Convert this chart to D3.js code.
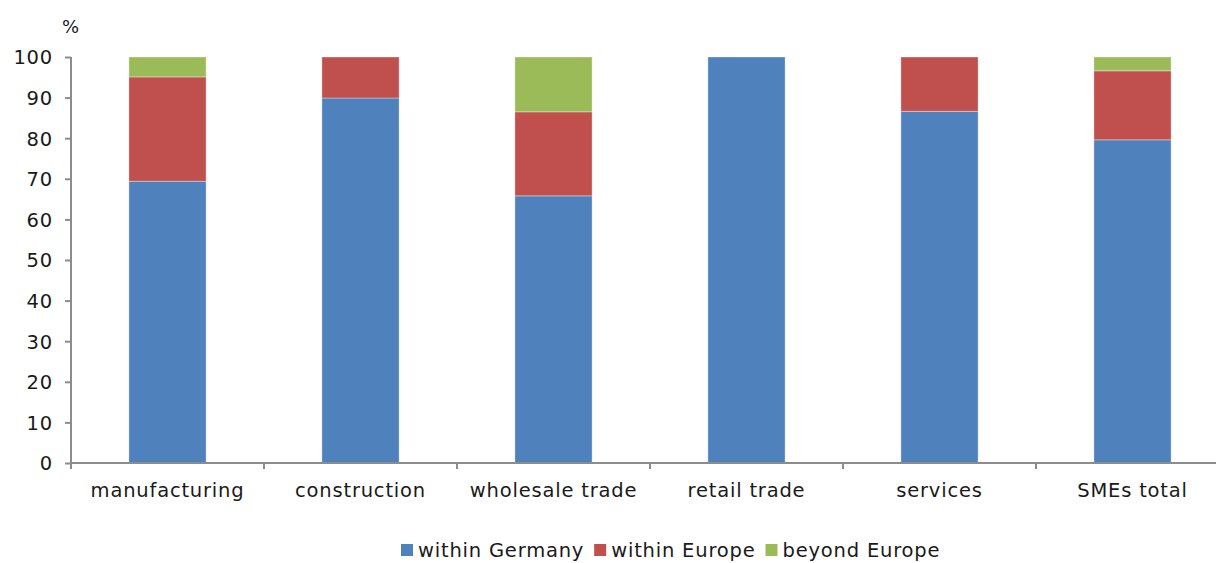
<!DOCTYPE html>
<html>
<head>
<meta charset="utf-8">
<script src="https://cdn.jsdelivr.net/npm/d3@7"></script>
<style>
  html, body { margin: 0; padding: 0; background: #fff; }
  svg { display: block; }
  text { font-family: "DejaVu Sans", Verdana, sans-serif; fill: #1a1a1a; letter-spacing: 0.8px; }
</style>
</head>
<body>
<svg id="chart" width="1216" height="563"></svg>
<script>
// Sectors along the x axis
const categories = ["manufacturing", "construction", "wholesale trade", "retail trade", "services", "SMEs total"];
// Share of sales by region, in %
const withinGermany = [69.4, 89.9, 65.8, 100, 86.6, 79.6];
const withinEurope  = [25.7, 10.1, 20.7, 0, 13.4, 17.0];
const beyondEurope  = [4.9, 0, 13.5, 0, 0, 3.4];
const seriesNames = ["within Germany", "within Europe", "beyond Europe"];
const seriesColors = ["#4F81BD", "#C0504D", "#9BBB59"];
const yTicks = [0, 10, 20, 30, 40, 50, 60, 70, 80, 90, 100];

const svg = d3.select("#chart");
const margin = { left: 71, top: 57, bottom: 463 };
const bandW = 193;
const plotRight = margin.left + bandW * categories.length;
const fontSize = 19.5;

const x = d3.scaleBand().domain(categories).range([margin.left, plotRight]).paddingInner(0.6).paddingOuter(0.3);
const y = d3.scaleLinear().domain([0, 100]).range([margin.bottom, margin.top]);

const rows = categories.map((c, i) => ({
  cat: c,
  "within Germany": withinGermany[i],
  "within Europe": withinEurope[i],
  "beyond Europe": beyondEurope[i]
}));
const stacked = d3.stack().keys(seriesNames)(rows);

// stacked bars
svg.append("g").selectAll("g")
  .data(stacked)
  .join("g")
  .attr("fill", (d, i) => seriesColors[i])
  .selectAll("rect")
  .data(d => d.filter(p => p[1] - p[0] > 0))
  .join("rect")
  .attr("x", d => x(d.data.cat))
  .attr("width", x.bandwidth())
  .attr("y", d => y(d[1]))
  .attr("height", d => y(d[0]) - y(d[1]))
  .attr("stroke", "rgba(255,255,255,0.35)")
  .attr("stroke-width", 1);

const axisColor = "#8c8c8c";

// y axis
const yAxis = svg.append("g")
  .attr("transform", `translate(${margin.left},0)`)
  .call(d3.axisLeft(y).tickValues(yTicks).tickSize(6).tickPadding(12));
yAxis.select(".domain").attr("stroke", axisColor).attr("stroke-width", 2).attr("d", `M0,${margin.top}V${margin.bottom}`);
yAxis.selectAll(".tick line").attr("stroke", axisColor).attr("stroke-width", 2);
yAxis.selectAll(".tick text").attr("font-size", fontSize).attr("font-family", "DejaVu Sans, sans-serif").attr("fill", "#1a1a1a").attr("dy", "0.35em");

// x axis: line with ticks at band boundaries
const xg = svg.append("g");
xg.append("line")
  .attr("x1", margin.left - 1).attr("x2", plotRight)
  .attr("y1", margin.bottom).attr("y2", margin.bottom)
  .attr("stroke", axisColor).attr("stroke-width", 2);
const boundaries = d3.range(categories.length + 1).map(i => margin.left + i * bandW);
xg.selectAll("line.tk").data(boundaries).join("line")
  .attr("class", "tk")
  .attr("x1", d => d).attr("x2", d => d)
  .attr("y1", margin.bottom).attr("y2", margin.bottom + 6)
  .attr("stroke", axisColor).attr("stroke-width", 2);
xg.selectAll("text").data(categories).join("text")
  .attr("x", d => x(d) + x.bandwidth() / 2)
  .attr("y", 497)
  .attr("text-anchor", "middle")
  .attr("font-size", fontSize)
  .text(d => d);

// unit label
svg.append("text").attr("x", 62).attr("y", 33).attr("font-size", 18).text("%");

// legend
const legend = svg.append("g").attr("transform", "translate(401,550)");
let lx = 0;
seriesNames.forEach((name, i) => {
  const g = legend.append("g").attr("transform", `translate(${lx},0)`);
  g.append("rect").attr("x", 0).attr("y", -6).attr("width", 12).attr("height", 12).attr("fill", seriesColors[i]);
  const t = g.append("text").attr("x", 17).attr("y", 0).attr("dy", "0.35em").attr("font-size", fontSize).text(name);
  lx += 17 + t.node().getComputedTextLength() + 10;
});
</script>
</body>
</html>
